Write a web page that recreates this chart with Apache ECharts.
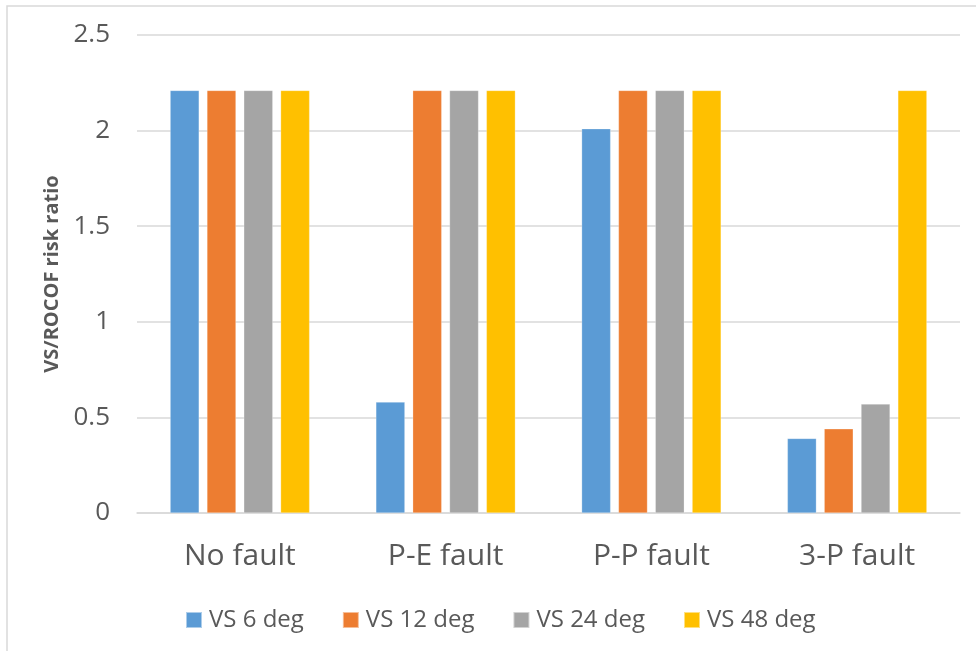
<!DOCTYPE html>
<html>
<head>
<meta charset="utf-8">
<script src="https://cdn.jsdelivr.net/npm/echarts@6/dist/echarts.min.js"></script>
<style>
  html,body{margin:0;padding:0;background:#fff;}
  #chart{width:976px;height:651px;}
</style>
</head>
<body>
<div id="chart"></div>
<script>
// data
var categories = ['No fault', 'P-E fault', 'P-P fault', '3-P fault'];
var seriesNames = ['VS 6 deg', 'VS 12 deg', 'VS 24 deg', 'VS 48 deg'];
var vs6 = [2.21, 0.58, 2.01, 0.39];
var vs12 = [2.21, 2.21, 2.21, 0.44];
var vs24 = [2.21, 2.21, 2.21, 0.57];
var vs48 = [2.21, 2.21, 2.21, 2.21];
var colors = ['#5b9bd5', '#ed7d31', '#a5a5a5', '#ffc000'];

var chart = echarts.init(document.getElementById('chart'));
var font = '"Open Sans", "Noto Sans", sans-serif';

function bar(name, data){
  return {
    name: name,
    type: 'bar',
    data: data,
    barWidth: 29,
    barGap: '27%',
    itemStyle: { borderColor: 'rgba(255,255,255,0.5)', borderWidth: 0.5 }
  };
}

var option = {
  animation: false,
  color: colors,
  graphic: [{
    type: 'rect',
    shape: { x: 7, y: 6, width: 1000, height: 700 },
    style: { fill: 'none', stroke: '#d9d9d9', lineWidth: 1.5 },
    silent: true
  }],
  legend: {
    data: seriesNames,
    left: 180,
    top: 603,
    itemWidth: 16,
    itemHeight: 16,
    itemGap: 38,
    icon: 'rect',
    textStyle: { color: '#595959', fontSize: 24, fontFamily: font, padding: [0, 0, 0, 2] }
  },
  grid: {
    left: 137,
    right: 16,
    top: 35,
    bottom: 138,
    containLabel: false
  },
  xAxis: {
    type: 'category',
    data: categories,
    axisLine: { lineStyle: { color: '#d9d9d9', width: 1.5 } },
    axisTick: { show: false },
    axisLabel: { color: '#595959', fontSize: 30, margin: 28, fontFamily: font }
  },
  yAxis: {
    type: 'value',
    min: 0,
    max: 2.5,
    interval: 0.5,
    name: 'VS/ROCOF risk ratio',
    nameLocation: 'middle',
    nameGap: 75,
    nameTextStyle: { color: '#595959', fontSize: 20, fontWeight: 'bold', fontFamily: font },
    axisLine: { show: false },
    axisTick: { show: false },
    axisLabel: { color: '#595959', fontSize: 26, margin: 27, fontFamily: font },
    splitLine: { lineStyle: { color: '#d9d9d9', width: 1.5 } }
  },
  series: [
    bar(seriesNames[0], vs6),
    bar(seriesNames[1], vs12),
    bar(seriesNames[2], vs24),
    bar(seriesNames[3], vs48)
  ]
};

chart.setOption(option);
</script>
</body>
</html>
